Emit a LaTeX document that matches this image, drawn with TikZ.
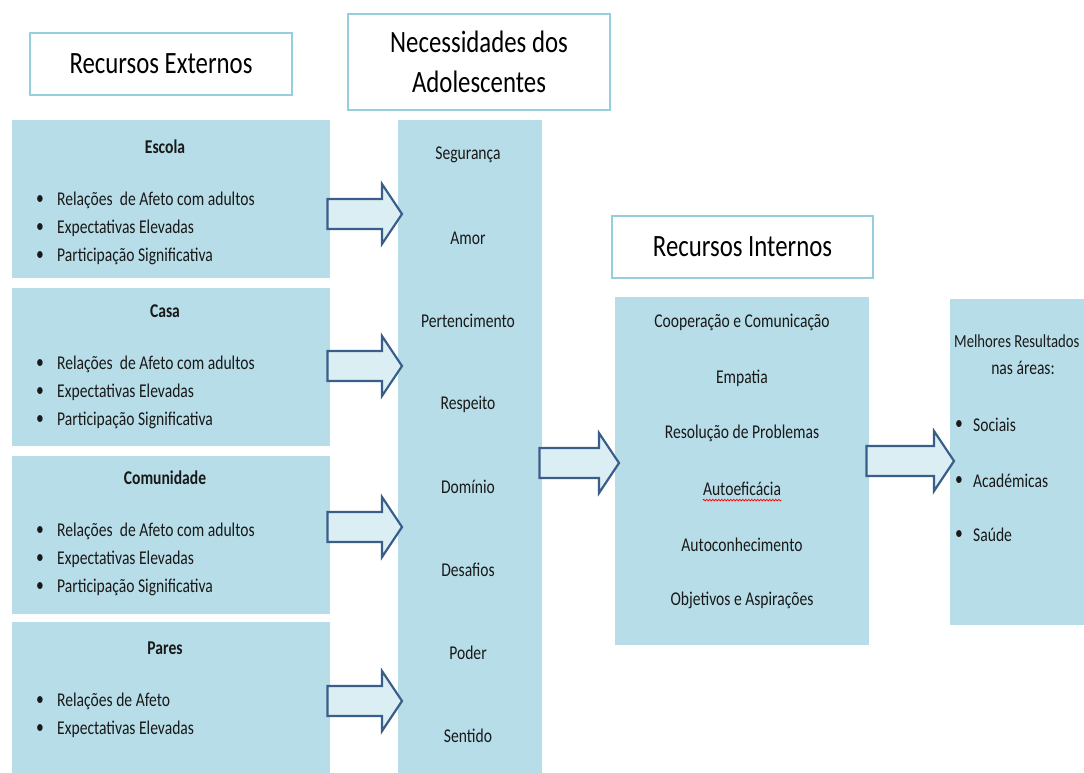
\documentclass[tikz,border=0pt]{standalone}
\usepackage{fontspec}
\setmainfont[FakeStretch=0.8]{Carlito}
\usetikzlibrary{calc,decorations.pathmorphing}
\definecolor{boxblue}{RGB}{183,221,232}
\definecolor{edgeblue}{RGB}{150,206,222}
\definecolor{arrowfill}{RGB}{219,238,244}
\definecolor{arrowline}{RGB}{58,94,138}
\tikzset{
  bluebox/.style={fill=boxblue,draw=none,inner sep=0,anchor=north west},
  titlebox/.style={fill=white,draw=edgeblue,line width=1.5pt,inner sep=0,align=center,
    font=\fontsize{31}{40}\selectfont},
  item/.style={inner sep=0,text=black!90,font=\fontsize{19.5}{22}\selectfont},
  blockarrow/.style={fill=arrowfill,draw=arrowline,line width=2.2pt,line join=miter}
}
% block arrow: from node, to node, level
\newcommand\bigarrow[3]{%
  \draw[blockarrow] let \p1=(#1.east), \p2=(#2.west), \p3=(0,#3) in
    (\x1-3,\y3+15) -- (\x2-16,\y3+15) -- (\x2-16,\y3+30) -- (\x2+4,\y3)
    -- (\x2-16,\y3-30) -- (\x2-16,\y3-15) -- (\x1-3,\y3-15) -- cycle;}
\begin{document}
\begin{tikzpicture}[x=1pt,y=-1pt]
  \useasboundingbox (0,0) rectangle (1084,772);
  % titles
  \node[titlebox,minimum width=262,minimum height=62] (extTitle) at (161,64) {Recursos Externos};
  \node[titlebox,minimum width=262,minimum height=96] (needTitle) at (479,62) {Necessidades dos\\Adolescentes};
  \node[titlebox,minimum width=261,minimum height=62] (intTitle) at (742.5,247) {Recursos Internos};
  % external resources
  \foreach \name/\title/\top/\ty in {escola/Escola/120/147, casa/Casa/288/311, comunidade/Comunidade/456/478}{
    \node[bluebox,minimum width=318,minimum height=158] (\name) at (12,\top) {};
    \node[item,font=\fontsize{19.5}{22}\selectfont\bfseries] (\name Title) at (165,\ty) {\title};
    \foreach \txt [count=\i] in {Relações\ \ de Afeto com adultos, Expectativas Elevadas, Participação Significativa}{
      \node[item] (\name Dot\i) at (40,\ty+25+28*\i) {•};
      \node[item,anchor=west] (\name Item\i) at (57,\ty+25+28*\i) {\txt};
    }
  }
  \node[bluebox,minimum width=318,minimum height=160] (pares) at (12,622) {};
  \node[item,font=\fontsize{19.5}{22}\selectfont\bfseries] (paresTitle) at (165,648) {Pares};
  \foreach \txt [count=\i] in {Relações de Afeto, Expectativas Elevadas}{
    \node[item] (paresDot\i) at (40,673+28*\i) {•};
    \node[item,anchor=west] (paresItem\i) at (57,673+28*\i) {\txt};
  }
  % needs
  \node[bluebox,minimum width=144,minimum height=660] (needs) at (398,120) {};
  \foreach \txt [count=\i] in {Segurança, Amor, Pertencimento, Respeito, Domínio, Desafios, Poder, Sentido}
    \node[item] (need\i) at (468,72+83*\i) {\txt};
  % internal resources
  \node[bluebox,minimum width=254,minimum height=348] (internal) at (615,297) {};
  \foreach \txt [count=\i] in {Cooperação e Comunicação, Empatia, Resolução de Problemas, Autoeficácia, Autoconhecimento, Objetivos e Aspirações}
    \node[item] (int\i) at (742,267.5+55.4*\i) {\txt};
  \draw[red,line width=0.8pt,decorate,decoration={snake,amplitude=0.8pt,segment length=3pt}]
    ([yshift=-4]int4.south west) -- ([yshift=-4]int4.south east);
  % results
  \node[bluebox,minimum width=140,minimum height=326] (results) at (950,299) {};
  \node[item,anchor=west,font=\fontsize{18.4}{22}\selectfont] (resTitle) at (954,341) {Melhores Resultados};
  \node[item] (resTitle2) at (1023,368) {nas áreas:};
  \foreach \txt/\y [count=\i] in {Sociais/425, Académicas/481, Saúde/535}{
    \node[item] (resDot\i) at (959,\y) {•};
    \node[item,anchor=west] (res\i) at (973,\y) {\txt};
  }
  % arrows
  \bigarrow{escola}{needs}{214}
  \bigarrow{casa}{needs}{366}
  \bigarrow{comunidade}{needs}{527}
  \bigarrow{pares}{needs}{701}
  \bigarrow{needs}{internal}{463}
  \bigarrow{internal}{results}{461}
\end{tikzpicture}
\end{document}
